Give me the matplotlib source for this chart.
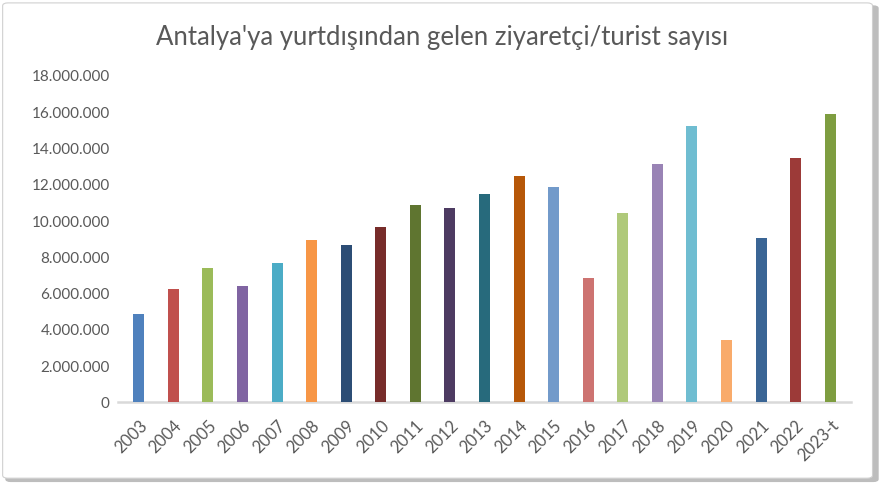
import matplotlib.pyplot as plt
from matplotlib.patches import FancyBboxPatch
from matplotlib.ticker import FuncFormatter

years = ['2003', '2004', '2005', '2006', '2007', '2008', '2009', '2010', '2011', '2012',
         '2013', '2014', '2015', '2016', '2017', '2018', '2019', '2020', '2021', '2022', '2023-t']
visitors = [4870000, 6250000, 7410000, 6410000, 7680000, 8950000, 8680000, 9670000, 10880000,
            10720000, 11490000, 12480000, 11880000, 6860000, 10440000, 13140000, 15240000,
            3440000, 9060000, 13470000, 15900000]
colors = ['#4F81BD', '#C0504D', '#9BBB59', '#8064A2', '#4BACC6', '#F79646', '#2C4D75',
          '#772C2A', '#5F7530', '#4D3B62', '#276A7C', '#B65708', '#729ACA', '#CD7371',
          '#AFC97A', '#9983B5', '#6FBDD1', '#F9AB6B', '#3A6595', '#9C3A38', '#7E9D40']

plt.rcParams['font.family'] = ['Lato', 'DejaVu Sans']

fig = plt.figure(figsize=(8.84, 4.84), dpi=100)
fig.patch.set_facecolor('white')

# frame with a soft shadow like the Excel chart box
shadow = FancyBboxPatch((0.006, 0.004), 0.988, 0.985, boxstyle='round,pad=0,rounding_size=0.006',
                        transform=fig.transFigure, facecolor='#bdbdbd', edgecolor='none', zorder=0)
frame = FancyBboxPatch((0.003, 0.012), 0.984, 0.982, boxstyle='round,pad=0,rounding_size=0.006',
                       transform=fig.transFigure, facecolor='white', edgecolor='#d0d0d0',
                       linewidth=0.8, zorder=1)
fig.patches.extend([shadow, frame])

ax = fig.add_axes([118 / 884, 1 - 402.3 / 484, (851 - 118) / 884, (402.3 - 76) / 484])
ax.set_facecolor('none')
ax.set_zorder(2)

x = range(len(years))
ax.bar(x, visitors, width=0.32, color=colors, zorder=3)

ax.set_xlim(-0.6, len(years) - 0.4)
ax.set_ylim(0, 18000000)
ax.set_yticks(range(0, 18000001, 2000000))
ax.yaxis.set_major_formatter(FuncFormatter(lambda v, p: f'{int(v):,}'.replace(',', '.')))
ax.set_xticks(list(x))
ax.set_xticklabels(years, rotation=45, ha='right', rotation_mode='anchor')

for s in ['top', 'right', 'left']:
    ax.spines[s].set_visible(False)
ax.spines['bottom'].set_color('#d9d9d9')
ax.spines['bottom'].set_linewidth(1.8)
ax.tick_params(axis='y', length=0, labelsize=11, labelcolor='#595959', pad=6)
ax.tick_params(axis='x', length=0, labelsize=12, labelcolor='#595959', pad=11)
for lbl in ax.get_xticklabels():
    lbl.set_x(lbl.get_position()[0])

fig.text(0.5, 1 - 38 / 484, "Antalya'ya yurtdışından gelen ziyaretçi/turist sayısı",
         ha='center', va='center', fontsize=18.5, color='#595959')

plt.savefig('out.png', dpi=100)
